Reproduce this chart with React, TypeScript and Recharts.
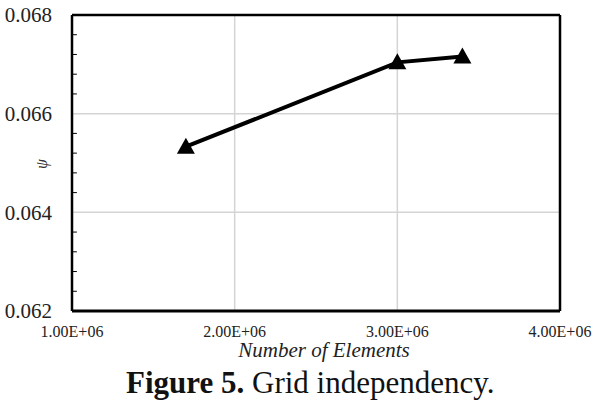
import { CartesianGrid, Line, LineChart, ReferenceLine, XAxis, YAxis } from "recharts";

const elements = [1.7e6, 3.0e6, 3.4e6];
const psi = [0.06533, 0.06704, 0.06716];
const xTicks = [1e6, 2e6, 3e6, 4e6];
const yTicks = [0.062, 0.064, 0.066, 0.068];
const yMinor = [0.0624, 0.0628, 0.0632, 0.0636, 0.0644, 0.0648, 0.0652, 0.0656, 0.0664, 0.0668, 0.0672, 0.0676];

const data = elements.map((x, i) => ({ x, psi: psi[i] }));

const font = '"Liberation Serif", serif';

function Triangle({ cx, cy }: { cx?: number; cy?: number }) {
  if (cx == null || cy == null) return null;
  return (
    <path
      d={`M${cx},${cy - 9} L${cx + 9},${cy + 7} L${cx - 9},${cy + 7} Z`}
      fill="#000"
    />
  );
}

export default function App() {
  return (
    <div style={{ position: "absolute", left: 0, top: 0, width: 596, height: 410, background: "#fff", fontFamily: font }}>
      <LineChart width={596} height={410} data={data} margin={{ top: 15, right: 36, bottom: 69, left: 0 }}>
        <CartesianGrid
          stroke="#d4d4d4"
          strokeWidth={1.5}
          horizontalValues={[0.064, 0.066]}
          verticalValues={[2e6, 3e6]}
        />
        <XAxis
          dataKey="x"
          type="number"
          domain={[1e6, 4e6]}
          ticks={xTicks}
          tickFormatter={(v: number) => (v / 1e6).toFixed(2) + "E+06"}
          tick={{ fill: "#222", fontSize: 16, fontFamily: font }}
          tickLine={false}
          axisLine={{ stroke: "#000", strokeWidth: 3 }}
          tickMargin={9}
          height={30}
        />
        <YAxis
          type="number"
          domain={[0.062, 0.068]}
          ticks={yTicks}
          tickFormatter={(v: number) => v.toFixed(3)}
          tick={{ fill: "#222", fontSize: 21, fontFamily: font }}
          tickLine={false}
          axisLine={{ stroke: "#000", strokeWidth: 2.5 }}
          tickMargin={14}
          width={72}
        />
        <ReferenceLine y={0.068} stroke="#000" strokeWidth={2.5} />
        <ReferenceLine x={4e6} stroke="#000" strokeWidth={2.5} />
        {yMinor.map((v) => (
          <ReferenceLine
            key={v}
            segment={[{ x: 1e6, y: v }, { x: 1.03e6, y: v }]}
            stroke="#000"
            strokeWidth={1}
          />
        ))}
        <Line
          dataKey="psi"
          stroke="#000"
          strokeWidth={4}
          dot={<Triangle />}
          activeDot={false}
          isAnimationActive={false}
        />
      </LineChart>
      {/* y axis symbol, rotated like the original */}
      <div
        style={{
          position: "absolute", left: 42, top: 164, transform: "translate(-50%, -50%) rotate(-90deg)",
          fontStyle: "italic", fontSize: 16, color: "#333", lineHeight: 1,
        }}
      >
        ψ
      </div>
      <div style={{ position: "absolute", left: 74, width: 500, top: 338, textAlign: "center", fontStyle: "italic", fontSize: 21, color: "#222", whiteSpace: "nowrap" }}>
        Number of Elements
      </div>
      <div style={{ position: "absolute", left: 126, top: 365, fontSize: 31, color: "#111", whiteSpace: "nowrap" }}>
        <b>Figure 5.</b> Grid independency.
      </div>
    </div>
  );
}
